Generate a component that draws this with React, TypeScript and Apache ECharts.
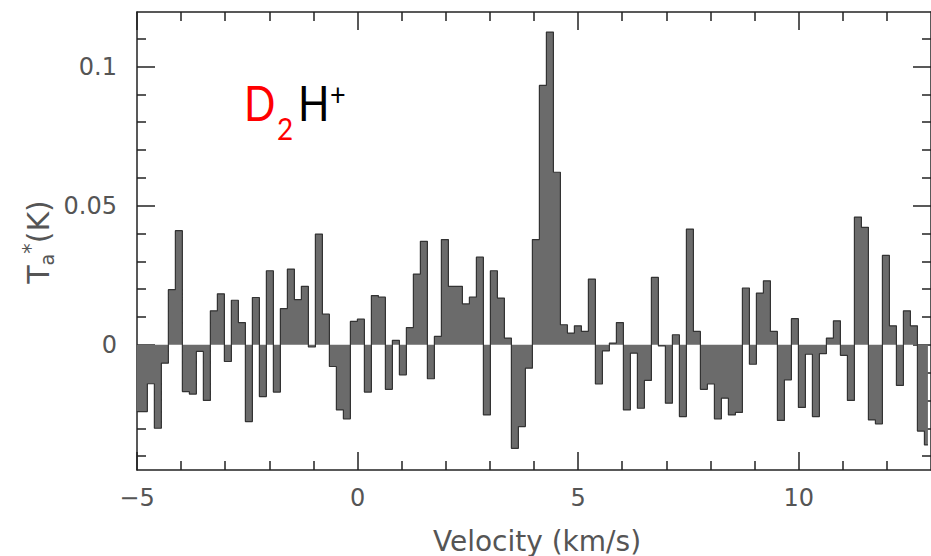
import React, { useEffect, useRef } from "react";
import * as echarts from "echarts";

// Spectrometer channel grid (km/s)
const CHANNEL_START = -5.003;
const CHANNEL_WIDTH = 0.1587;

// Antenna temperature Ta* (K) per channel
const TA_LEFT = [
  -0.024, -0.024, -0.014, -0.03, -0.0066, 0.0198, 0.041, -0.0168, -0.0177, -0.0024, -0.02,
  0.0122, 0.0183, -0.006, 0.016, 0.008, -0.0276, 0.017, -0.0186,
  0.0266, -0.017, 0.013, 0.0272, 0.0162, 0.021, -0.0008, 0.0398, 0.011, -0.0078,
  -0.0234, -0.0266, 0.0084, 0.0092, -0.017, 0.0177, 0.0171, -0.016, 0.0016,
];
const TA_MID = [
  -0.0108, 0.0062, 0.0254, 0.0372, -0.0122, 0.003, 0.0378, 0.021, 0.021, 0.0147,
  0.0171, 0.0315, -0.0252, 0.0266, 0.0168, 0.0024, -0.0372, -0.0294, -0.0084,
  0.0378, 0.0932, 0.1124, 0.062, 0.0072, 0.0042, 0.0068, 0.0048, 0.0236, -0.0141,
  -0.0022, 0.0006, 0.008, -0.0234, -0.003, -0.0228, -0.0128, 0.0242, -0.0004,
  -0.021, 0.0036, -0.0258, 0.0416, 0.0048, -0.016,
];
const TA_RIGHT = [
  -0.0141, -0.0266, -0.0192, -0.0252, -0.0243, 0.0204, -0.007, 0.0186, 0.023,
  0.0048, -0.0272, -0.0126, 0.0094, -0.0225, -0.0034, -0.0258, -0.0032, 0.0024,
  0.0086, -0.0038, -0.02, 0.0459, 0.0422, -0.027, -0.0284, 0.0321, 0.0068,
  -0.0146, 0.0122, 0.0068, -0.031, -0.036,
];
const TA = [...TA_LEFT, ...TA_MID, ...TA_RIGHT];

const X_MAJOR = [-5, 0, 5, 10];
const X_MINOR = [-4, -3, -2, -1, 1, 2, 3, 4, 6, 7, 8, 9, 11, 12];
const Y_MAJOR = [0, 0.05, 0.1];
const Y_MINOR = [-0.04, -0.03, -0.02, -0.01, 0.01, 0.02, 0.03, 0.04, 0.06, 0.07, 0.08, 0.09, 0.11];

const X_MIN = -5;
const X_MAX = 13;
const Y_MIN = -0.045;
const Y_MAX = 0.1196;

const FONT = "DejaVu Sans";
const LABEL_COLOR = "#555";
const AXIS_COLOR = "#222";

function fmt(v: number): string {
  if (v === 0) return "0";
  if (v < 0) return "\u2212" + String(-v);
  return String(v);
}

export default function App() {
  const ref = useRef<HTMLDivElement>(null);

  useEffect(() => {
    if (!ref.current) return;
    const chart = echarts.init(ref.current, null, { renderer: "svg" });
    const data = TA.map((t, i) => [CHANNEL_START + i * CHANNEL_WIDTH, t]);

    const xAxisBase = (position: "top" | "bottom", values: number[], len: number, showLine: boolean, showLabel: boolean) => ({
      type: "value",
      position,
      min: X_MIN,
      max: X_MAX,
      axisLine: { show: showLine, onZero: false, lineStyle: { color: AXIS_COLOR, width: 1.5 } },
      axisTick: { show: true, inside: true, length: len, customValues: values, lineStyle: { color: AXIS_COLOR, width: 1.5 } },
      axisLabel: {
        show: showLabel,
        customValues: values,
        formatter: (v: number) => fmt(v),
        fontFamily: FONT,
        fontSize: 24,
        color: LABEL_COLOR,
        margin: 16,
      },
      splitLine: { show: false },
    });
    const yAxisBase = (position: "left" | "right", values: number[], len: number, showLine: boolean, showLabel: boolean) => ({
      type: "value",
      position,
      min: Y_MIN,
      max: Y_MAX,
      axisLine: { show: showLine, onZero: false, lineStyle: { color: AXIS_COLOR, width: 1.5 } },
      axisTick: { show: true, inside: true, length: len, customValues: values, lineStyle: { color: AXIS_COLOR, width: 1.5 } },
      axisLabel: {
        show: showLabel,
        customValues: values,
        formatter: (v: number) => fmt(v),
        fontFamily: FONT,
        fontSize: 24,
        color: LABEL_COLOR,
        margin: 20,
      },
      splitLine: { show: false },
    });

    chart.setOption({
      animation: false,
      backgroundColor: "#fff",
      grid: { left: 137, top: 12, right: -8, bottom: 86, containLabel: false },
      xAxis: [
        xAxisBase("bottom", X_MAJOR, 18, true, true),
        xAxisBase("bottom", X_MINOR, 9, false, false),
        xAxisBase("top", X_MAJOR, 18, true, false),
        xAxisBase("top", X_MINOR, 9, false, false),
      ],
      yAxis: [
        yAxisBase("left", Y_MAJOR, 18, true, true),
        yAxisBase("left", Y_MINOR, 9, false, false),
        yAxisBase("right", Y_MAJOR, 18, true, false),
        yAxisBase("right", Y_MINOR, 9, false, false),
      ],
      series: [
        {
          type: "line",
          xAxisIndex: 0,
          yAxisIndex: 0,
          step: "middle",
          symbol: "none",
          data,
          lineStyle: { color: "#333", width: 1.2 },
          areaStyle: { color: "#6b6b6b", opacity: 1, origin: 0 },
          silent: true,
        },
      ],
      graphic: [
        {
          type: "text",
          x: 537,
          y: 541,
          style: {
            text: "Velocity (km/s)",
            fontFamily: FONT,
            fontSize: 28,
            fill: LABEL_COLOR,
            align: "center",
            verticalAlign: "middle",
          },
        },
        {
          type: "text",
          x: 38,
          y: 242,
          rotation: Math.PI / 2,
          style: {
            text: "{t|T}{s|a}{p|*}{t|(K)}",
            align: "center",
            verticalAlign: "middle",
            rich: {
              t: { fontFamily: FONT, fontSize: 30, fill: LABEL_COLOR, lineHeight: 36, verticalAlign: "middle" },
              s: { fontFamily: FONT, fontSize: 19, fill: LABEL_COLOR, lineHeight: 36, verticalAlign: "bottom" },
              p: { fontFamily: FONT, fontSize: 21, fill: LABEL_COLOR, lineHeight: 36, verticalAlign: "top" },
            },
          },
        },
        {
          type: "text",
          x: 244,
          y: 127,
          scaleX: 0.86,
          style: { text: "D", fontFamily: "Lato", fontSize: 48, fill: "#ff0000", align: "left", verticalAlign: "bottom" },
        },
        {
          type: "text",
          x: 277,
          y: 143,
          scaleX: 0.9,
          style: { text: "2", fontFamily: "Lato", fontSize: 31, fill: "#ff0000", align: "left", verticalAlign: "bottom" },
        },
        {
          type: "text",
          x: 298,
          y: 127,
          scaleX: 0.86,
          style: { text: "H", fontFamily: "Lato", fontSize: 48, fill: "#000", align: "left", verticalAlign: "bottom" },
        },
        {
          type: "text",
          x: 330,
          y: 109,
          scaleX: 0.9,
          style: { text: "+", fontFamily: "Lato", fontSize: 30, fill: "#000", align: "left", verticalAlign: "bottom" },
        },
      ],
    });

    return () => chart.dispose();
  }, []);

  return (
    <div
      ref={ref}
      style={{ position: "fixed", left: 0, top: 0, width: 931, height: 556, background: "#fff" }}
    />
  );
}
